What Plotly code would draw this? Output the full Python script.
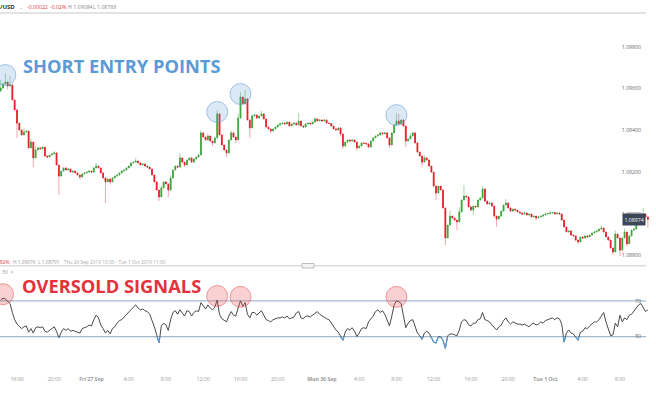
import plotly.graph_objects as go

# ---------------- data (15-minute EUR/USD candles) ----------------
close = [
    1.09603, 1.09623, 1.09632, 1.09613, 1.09618, 1.09546, 1.09498, 1.09435, 1.09402, 1.09378,
    1.09392, 1.09397, 1.09316, 1.09344, 1.09268, 1.09306, 1.09316, 1.09311, 1.09320, 1.09277,
    1.09272, 1.09282, 1.09287, 1.09292, 1.09234, 1.09181, 1.09205, 1.09220, 1.09210, 1.09215,
    1.09200, 1.09205, 1.09196, 1.09186, 1.09177, 1.09191, 1.09196, 1.09200, 1.09205, 1.09200,
    1.09220, 1.09229, 1.09220, 1.09196, 1.09172, 1.09153, 1.09167, 1.09153, 1.09172, 1.09181,
    1.09186, 1.09196, 1.09205, 1.09210, 1.09220, 1.09229, 1.09244, 1.09248, 1.09253, 1.09244,
    1.09234, 1.09239, 1.09229, 1.09224, 1.09215, 1.09186, 1.09153, 1.09114, 1.09081, 1.09124,
    1.09153, 1.09143, 1.09114, 1.09172, 1.09210, 1.09229, 1.09224, 1.09268, 1.09248, 1.09234,
    1.09258, 1.09268, 1.09248, 1.09263, 1.09272, 1.09282, 1.09388, 1.09368, 1.09354, 1.09373,
    1.09349, 1.09340, 1.09364, 1.09479, 1.09378, 1.09330, 1.09306, 1.09292, 1.09354, 1.09388,
    1.09368, 1.09354, 1.09459, 1.09560, 1.09527, 1.09551, 1.09450, 1.09412, 1.09469, 1.09474,
    1.09459, 1.09469, 1.09479, 1.09455, 1.09416, 1.09407, 1.09397, 1.09407, 1.09416, 1.09426,
    1.09431, 1.09435, 1.09431, 1.09440, 1.09421, 1.09431, 1.09435, 1.09426, 1.09445, 1.09421,
    1.09416, 1.09431, 1.09435, 1.09431, 1.09440, 1.09455, 1.09445, 1.09450, 1.09445, 1.09450,
    1.09435, 1.09433, 1.09421, 1.09407, 1.09402, 1.09412, 1.09383, 1.09325, 1.09344, 1.09354,
    1.09349, 1.09354, 1.09344, 1.09316, 1.09325, 1.09340, 1.09338, 1.09335, 1.09320, 1.09349,
    1.09364, 1.09373, 1.09378, 1.09388, 1.09383, 1.09388, 1.09364, 1.09330, 1.09388, 1.09426,
    1.09445, 1.09431, 1.09450, 1.09421, 1.09349, 1.09359, 1.09373, 1.09388, 1.09340, 1.09296,
    1.09277, 1.09248, 1.09268, 1.09258, 1.09229, 1.09200, 1.09133, 1.09100, 1.09133, 1.09114,
    1.09028, 1.08884, 1.08946, 1.08989, 1.08980, 1.08970, 1.08961, 1.09009, 1.09066, 1.09085,
    1.09081, 1.09033, 1.09018, 1.09037, 1.09033, 1.09066, 1.09076, 1.09119, 1.09061, 1.09047,
    1.09052, 1.09037, 1.08989, 1.08975, 1.08989, 1.09013, 1.09042, 1.09052, 1.09028, 1.09013,
    1.09023, 1.09018, 1.09009, 1.09004, 1.08999, 1.09004, 1.08994, 1.08999, 1.08985, 1.08989,
    1.08980, 1.08985, 1.08989, 1.08994, 1.08999, 1.09001, 1.09004, 1.09006, 1.08999, 1.09004,
    1.08999, 1.08970, 1.08937, 1.08913, 1.08918, 1.08898, 1.08894, 1.08874, 1.08865, 1.08889,
    1.08884, 1.08894, 1.08889, 1.08898, 1.08908, 1.08913, 1.08918, 1.08927, 1.08932, 1.08913,
    1.08889, 1.08874, 1.08836, 1.08817, 1.08903, 1.08884, 1.08826, 1.08884, 1.08913, 1.08856,
    1.08894, 1.08922, 1.08927, 1.08961, 1.08980, 1.08989, 1.08999, 1.08985, 1.08974,
]
first_open = 1.09590

wick_high = {0: 1.09642, 2: 1.09675, 4: 1.09661, 10: 1.09410, 13: 1.09360, 15: 1.09325,
             23: 1.09300, 41: 1.09244, 58: 1.09268, 69: 1.09135, 73: 1.09185, 77: 1.09292,
             86: 1.09400, 89: 1.09385, 93: 1.09498, 99: 1.09400, 102: 1.09480, 103: 1.09584,
             105: 1.09594, 108: 1.09480, 112: 1.09493, 120: 1.09440, 128: 1.09483, 135: 1.09465,
             163: 1.09395, 170: 1.09483, 171: 1.09479, 176: 1.09385, 182: 1.09280, 193: 1.09015,
             197: 1.09030, 199: 1.09138, 207: 1.09133, 217: 1.09071, 236: 1.09012, 258: 1.08946,
             264: 1.08920, 268: 1.08930, 276: 1.09028}
wick_low = {0: 1.09584, 3: 1.09595, 7: 1.09364, 14: 1.09224, 25: 1.09090, 34: 1.09165,
            45: 1.09052, 47: 1.09140, 68: 1.09061, 72: 1.09080, 79: 1.09225, 91: 1.09325,
            97: 1.09272, 101: 1.09340, 107: 1.09364, 116: 1.09385, 146: 1.09370, 147: 1.09311,
            153: 1.09305, 167: 1.09316, 174: 1.09320, 181: 1.09224, 187: 1.09066, 191: 1.08850,
            196: 1.08922, 203: 1.08994, 213: 1.08937, 230: 1.08970, 248: 1.08855, 263: 1.08802,
            266: 1.08798, 269: 1.08845, 278: 1.08932}

rsi = [
    71, 73, 72, 69, 67, 57, 49, 44, 42, 39,
    41, 42, 35, 39, 34, 40, 41, 40, 41, 36,
    35, 37, 39, 41, 36, 28.6, 35, 39, 37, 39,
    36, 37, 36, 35, 34, 39, 40, 41, 43, 42,
    49, 54, 51, 43, 39, 34, 37, 33, 39, 41,
    45, 48, 49, 52, 54, 57, 60, 63, 65.5, 62,
    60, 61, 59, 58, 55, 49, 41, 32, 23, 42,
    45, 43, 37, 49, 57, 59, 55, 60, 57, 53,
    59, 58, 53, 57, 59, 58, 68, 64, 61, 65.5,
    62, 60, 63, 71, 55, 50, 48, 46.5, 53, 58,
    54, 53, 62, 70, 64, 68, 55, 51, 57, 57,
    54, 57, 59, 54, 49, 48, 46.5, 49, 50, 51,
    51, 52, 51, 53, 50, 51, 52, 56.6, 58, 51,
    50, 53, 53, 52, 54, 57, 58, 55, 53, 51,
    50, 49, 45, 41, 37.5, 35, 30, 26, 35, 39,
    37.5, 40, 36, 30, 34, 39, 40, 39, 46.5, 50,
    53, 58, 60, 57, 59, 55, 49, 42, 53, 65.5,
    70, 69, 67, 54, 40, 45, 48, 49, 41, 34,
    31, 27, 34, 36, 34, 28.6, 24, 23, 30, 29.7,
    26, 17, 31, 33, 33, 32, 31, 37.5, 46.5, 49,
    48, 43, 42, 45, 45, 49, 50, 57, 49, 48,
    46.5, 43, 40, 37.5, 41, 43, 48, 51, 46.5, 44,
    46.5, 45, 44, 44, 43, 44, 42, 41, 44, 45,
    43, 44, 46.5, 45, 48, 49, 50, 51, 49, 51,
    50, 44, 24, 34, 37.5, 34, 33, 30, 26, 35,
    36, 40, 39, 42, 44, 46.5, 46.5, 49, 53, 57,
    46.5, 37.5, 31, 32, 45, 41, 54, 46.5, 51, 49,
    54, 55, 59, 62, 65.5, 67, 63, 58, 60,
]

tick_idx = [7, 23, 39, 55, 71, 87, 103, 119, 138, 154, 170, 186, 202, 218, 234, 250, 266]
tick_labels = ["16:00", "20:00", "Fri 27 Sep", "4:00", "8:00", "12:00", "16:00", "20:00",
               "Mon 30 Sep", "4:00", "8:00", "12:00", "16:00", "20:00", "Tue 1 Oct", "4:00", "8:00"]
price_ticks = [1.08800, 1.09000, 1.09200, 1.09400, 1.09600, 1.09800]
rsi_ticks = [30, 70]
short_entry_idx = [2, 93, 103, 170]
overbought_idx = [1, 93, 103, 170]

# ---------------- derived OHLC ----------------
n = len(close)
idx = list(range(n))
opn = [first_open] + close[:-1]
body_hi = [max(o, c) for o, c in zip(opn, close)]
body_lo = [min(o, c) for o, c in zip(opn, close)]
high = [max(wick_high.get(i, body_hi[i]), body_hi[i]) for i in idx]
low = [min(wick_low.get(i, body_lo[i]), body_lo[i]) for i in idx]

GREEN = "#3da63d"
RED = "#e3202b"
W = 656
H = 394
SMALL = 5.2


def py(p):
    return 1 - p / H


def px(p):
    return p / W


fig = go.Figure()

# pale wicks
fig.add_trace(go.Candlestick(
    x=idx, open=opn, high=high, low=low, close=close, xaxis="x", yaxis="y",
    increasing=dict(line=dict(color="rgba(61,166,61,0.45)", width=1), fillcolor="rgba(61,166,61,0.45)"),
    decreasing=dict(line=dict(color="rgba(227,32,43,0.4)", width=1), fillcolor="rgba(227,32,43,0.4)"),
    hoverinfo="skip", showlegend=False))
# solid bodies
fig.add_trace(go.Candlestick(
    x=idx, open=opn, high=body_hi, low=body_lo, close=close, xaxis="x", yaxis="y",
    increasing=dict(line=dict(color=GREEN, width=0.7), fillcolor=GREEN),
    decreasing=dict(line=dict(color=RED, width=0.7), fillcolor=RED),
    showlegend=False))

# RSI line
fig.add_trace(go.Scatter(x=idx, y=rsi, mode="lines", xaxis="x2", yaxis="y2",
                         line=dict(color="#4a4a4a", width=1), showlegend=False))
# RSI below 30 in blue (clipped sub-panel covering 0..30)
fig.add_trace(go.Scatter(x=idx, y=rsi, mode="lines", xaxis="x3", yaxis="y3",
                         line=dict(color="#5b9bd5", width=1.2), showlegend=False))

main_dom = [py(262), py(14)]
rsi_dom = [py(363.5), py(274)]
rsi_low_dom = [rsi_dom[0], rsi_dom[0] + 0.3 * (rsi_dom[1] - rsi_dom[0])]

x_range = [-0.3, -0.3 + W / 2.328]
ptext = ["{:.5f}".format(v) for v in price_ticks]
ttext = [("<b>%s</b>" % t) if " " in t else t for t in tick_labels]

fig.update_layout(
    width=W, height=H, margin=dict(l=0, r=0, t=0, b=0), boxgap=0.5,
    paper_bgcolor="white", plot_bgcolor="rgba(0,0,0,0)", showlegend=False,
    font=dict(family="Open Sans, sans-serif", size=SMALL, color="#777"),
    xaxis=dict(domain=[0, 1], range=x_range, anchor="y", showticklabels=False, showgrid=False,
               zeroline=False, rangeslider=dict(visible=False), ticks=""),
    yaxis=dict(domain=main_dom, range=[1.08769, 1.09958], side="right", anchor="x",
               tickvals=price_ticks, ticktext=ptext, ticklabelposition="inside",
               ticklabelstandoff=12, showgrid=False, zeroline=False, ticks="",
               tickfont=dict(size=SMALL, color="#666")),
    xaxis2=dict(domain=[0, 1], matches="x", anchor="y2", tickvals=tick_idx, ticktext=ttext,
                ticks="outside", ticklen=10, tickcolor="rgba(0,0,0,0)", showgrid=False,
                zeroline=False, showline=False, tickfont=dict(size=SMALL, color="#999"),
                rangeslider=dict(visible=False)),
    yaxis2=dict(domain=rsi_dom, range=[0, 100], side="right", anchor="x2",
                tickvals=rsi_ticks, ticktext=[str(v) for v in rsi_ticks],
                ticklabelposition="inside", ticklabelstandoff=12, showgrid=False,
                zeroline=False, ticks="", tickfont=dict(size=SMALL, color="#666")),
    xaxis3=dict(domain=[0, 1], matches="x", anchor="y3", visible=False),
    yaxis3=dict(domain=rsi_low_dom, range=[0, 30], anchor="x3", visible=False),
)

shapes = []
# RSI 70 / 30 levels
for lv in rsi_ticks:
    shapes.append(dict(type="line", xref="paper", yref="y2", x0=0, x1=px(646), y0=lv, y1=lv,
                       line=dict(color="#a3b9ce", width=1.4), layer="below"))
# header and separator lines
shapes.append(dict(type="line", xref="paper", yref="paper", x0=0, x1=px(646), y0=py(13), y1=py(13),
                   line=dict(color="#e3e3e3", width=2)))
shapes.append(dict(type="line", xref="paper", yref="paper", x0=0, x1=px(646), y0=py(265.7), y1=py(265.7),
                   line=dict(color="#dcdcdc", width=1.5)))
shapes.append(dict(type="rect", xref="paper", yref="paper", x0=px(302), x1=px(314), y0=py(268), y1=py(263.5),
                   line=dict(color="#bbbbbb", width=1), fillcolor="#f4f4f4"))
# short entry circles
for i in short_entry_idx:
    shapes.append(dict(type="circle", xref="x", yref="y", xsizemode="pixel", ysizemode="pixel",
                       xanchor=i, yanchor=high[i], x0=-10.5, x1=10.5, y0=-12.5, y1=8.5,
                       fillcolor="rgba(91,155,213,0.22)", line=dict(color="rgba(91,155,213,0.55)", width=1)))
# overbought circles on RSI
for i in overbought_idx:
    shapes.append(dict(type="circle", xref="x2", yref="y2", xsizemode="pixel", ysizemode="pixel",
                       xanchor=i, yanchor=rsi[i], x0=-10.5, x1=10.5, y0=-6.5, y1=14.5,
                       fillcolor="rgba(232,70,80,0.25)", line=dict(color="rgba(232,70,80,0.5)", width=1)))
fig.update_layout(shapes=shapes)

ann = []


def text(x, y, t, color="#888", size=SMALL, anchor="left"):
    ann.append(dict(x=px(x), y=py(y), xref="paper", yref="paper", text=t, showarrow=False,
                    xanchor=anchor, yanchor="middle", borderpad=0, font=dict(size=size, color=color)))


text(-1, 7, "<b>/USD</b>", "#333", 6)
text(18, 7, "⌄", "#999", SMALL)
text(26, 7, "-0.00022", "#e0393e", SMALL)
text(49, 7, "-0.02%", "#e0393e", SMALL)
text(67, 7, "H 1.09084", "#888", SMALL)
text(92, 7, "L 1.08788", "#888", SMALL)
text(-1, 261.5, "82%", "#e0393e", 4.8)
text(12, 261.5, "H 1.09676", "#999", 4.8)
text(37, 261.5, "L 1.08791", "#999", 4.8)
text(63, 261.5, "Thu 26 Sep 2019 10:30 - Tue 1 Oct 2019 11:00", "#aaa", 4.8)
text(1, 272, "30  ×", "#999", SMALL)
text(22, 66, "<b>SHORT ENTRY POINTS</b>", "#5b9bd5", 18.3)
text(21, 285, "<b>OVERSOLD SIGNALS</b>", "#e3323c", 18.3)
# last price tag
ann.append(dict(x=px(633.5), y=close[-1], xref="paper", yref="y", text="{:.5f}".format(close[-1]),
                showarrow=False, xanchor="center", yanchor="middle", bgcolor="#3b4758",
                borderpad=1.5, font=dict(size=SMALL, color="white")))
fig.update_layout(annotations=ann)

fig.write_html("out.html", config={"displayModeBar": False},
               post_script="document.body.style.margin='0';document.body.style.overflow='hidden';")
